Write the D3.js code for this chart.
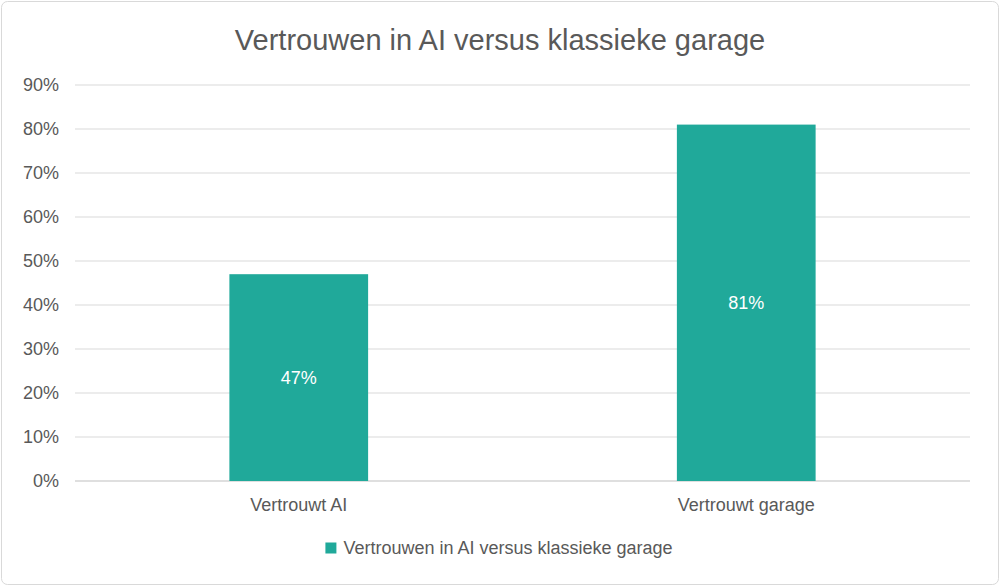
<!DOCTYPE html>
<html>
<head>
<meta charset="utf-8">
<script src="https://cdn.jsdelivr.net/npm/d3@7"></script>
<style>
  body { margin: 0; background: #fff; }
  text { font-family: "Liberation Sans", Arial, sans-serif; }
</style>
</head>
<body>
<svg id="chart" width="1000" height="586"></svg>
<script>
// data
var categories = ["Vertrouwt AI", "Vertrouwt garage"];
var values = [47, 81];
var yTicks = [0, 10, 20, 30, 40, 50, 60, 70, 80, 90];
var title = "Vertrouwen in AI versus klassieke garage";
var seriesName = "Vertrouwen in AI versus klassieke garage";

var svg = d3.select("#chart");
var margin = {left: 75, right: 30, top: 85, bottom: 105};
var w = 1000 - margin.left - margin.right;
var h = 586 - margin.top - margin.bottom;
var grey = "#595959";
var barColor = "#20A99A";

svg.append("rect")
  .attr("x", 1.5).attr("y", 1.5).attr("width", 997).attr("height", 583)
  .attr("rx", 6).attr("fill", "#fff").attr("stroke", "#d9d9d9");

svg.append("text")
  .attr("x", 500).attr("y", 50).attr("text-anchor", "middle")
  .attr("font-size", 29).attr("fill", grey).text(title);

var g = svg.append("g").attr("transform", "translate(" + margin.left + "," + margin.top + ")");

var x = d3.scaleBand().domain(categories).range([0, w]).paddingInner(0.69).paddingOuter(0.345);
var y = d3.scaleLinear().domain([0, 90]).range([h, 0]);

g.selectAll(".grid").data(yTicks).enter().append("line")
  .attr("x1", 0).attr("x2", w)
  .attr("y1", function(d){ return y(d); }).attr("y2", function(d){ return y(d); })
  .attr("stroke", function(d){ return d === 0 ? "#bfbfbf" : "#d9d9d9"; });

g.selectAll(".ytick").data(yTicks).enter().append("text")
  .attr("x", -16).attr("y", function(d){ return y(d); }).attr("dy", "0.35em")
  .attr("text-anchor", "end").attr("font-size", 18).attr("fill", grey)
  .text(function(d){ return d + "%"; });

g.selectAll(".bar").data(values).enter().append("rect")
  .attr("x", function(d, i){ return x(categories[i]); })
  .attr("width", x.bandwidth())
  .attr("y", function(d){ return y(d); })
  .attr("height", function(d){ return h - y(d); })
  .attr("fill", barColor);

g.selectAll(".lbl").data(values).enter().append("text")
  .attr("x", function(d, i){ return x(categories[i]) + x.bandwidth() / 2; })
  .attr("y", function(d){ return (y(d) + h) / 2; }).attr("dy", "0.35em")
  .attr("text-anchor", "middle").attr("font-size", 18).attr("fill", "#fff")
  .text(function(d){ return d + "%"; });

g.selectAll(".xtick").data(categories).enter().append("text")
  .attr("x", function(d){ return x(d) + x.bandwidth() / 2; })
  .attr("y", h + 30).attr("text-anchor", "middle")
  .attr("font-size", 18).attr("fill", grey).text(function(d){ return d; });

var leg = svg.append("g").attr("transform", "translate(500,548)");
var lt = leg.append("text").attr("x", 8).attr("dy", "0.35em")
  .attr("font-size", 18).attr("fill", grey).text(seriesName);
var tw = lt.node().getComputedTextLength();
leg.attr("transform", "translate(" + (500 - (tw + 20) / 2) + ",548)");
lt.attr("x", 18);
leg.append("rect").attr("x", 0).attr("y", -5.5).attr("width", 11).attr("height", 11).attr("fill", barColor);
</script>
</body>
</html>
